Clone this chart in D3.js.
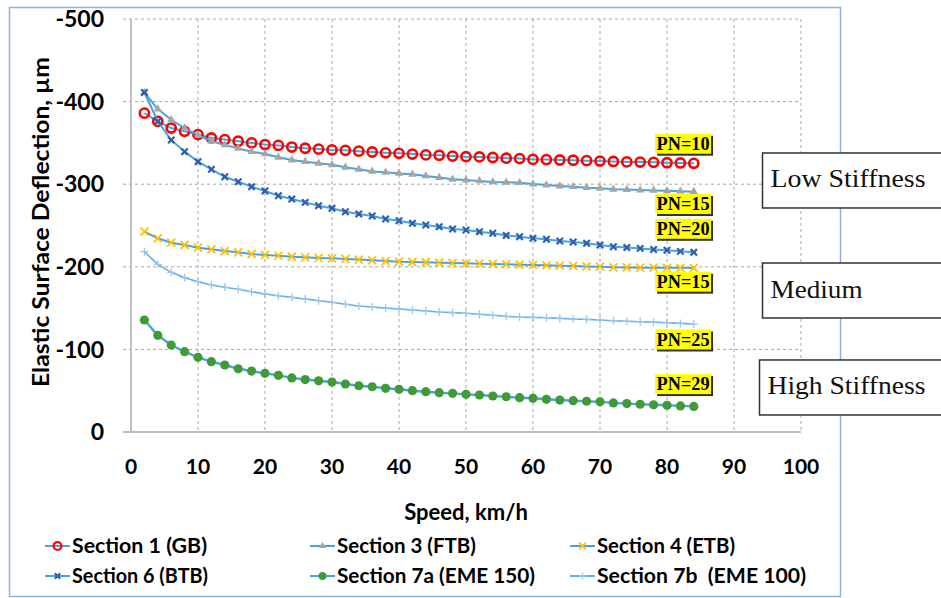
<!DOCTYPE html>
<html>
<head>
<meta charset="utf-8">
<script src="https://cdn.jsdelivr.net/npm/d3@7"></script>
<style>
html,body{margin:0;padding:0;background:#fff;}
svg{display:block;}
text{white-space:pre;}
</style>
</head>
<body>
<svg id="chart" width="941" height="598"></svg>
<script>
// ---------- DATA ----------
const speeds = [2,4,6,8,10,12,14,16,18,20,22,24,26,28,30,32,34,36,38,40,42,44,46,48,50,52,54,56,58,60,62,64,66,68,70,72,74,76,78,80,82,84];
const section1GB = [-386,-376,-368,-364,-360,-356,-354,-352,-350,-348,-347,-345,-343.5,-342.5,-341.5,-341,-340,-339,-338,-337.4,-336.5,-335.5,-335,-334,-333.3,-333,-332.3,-331.5,-331,-330,-329.8,-329.3,-329,-328.5,-328,-327.5,-327,-326.8,-326.5,-326,-325.7,-325.3];
const section3FTB = [-411,-391,-378,-368,-359,-352.3,-347.5,-343.4,-339.4,-336.6,-332.6,-329.3,-327.3,-325.3,-323.5,-320.4,-318,-315.5,-314.4,-313,-312,-310,-308,-306,-305,-304,-302.7,-302.3,-301.8,-300.2,-299,-297.8,-297,-295.8,-295,-293.8,-293.5,-293,-292.5,-292,-291.5,-291];
const section4ETB = [-242.5,-234.5,-229.2,-226.4,-223.1,-221.2,-219.1,-217.5,-215.5,-214.3,-213.4,-212.2,-211.5,-210.7,-210.3,-209.5,-208.8,-207.8,-207,-206.2,-205.8,-205.5,-205,-204.6,-204.2,-203.8,-203.4,-203,-202.6,-202.2,-201.8,-201.4,-201,-200.5,-200.1,-199.4,-199.2,-199,-198.9,-198.8,-198.7,-198.6];
const section6BTB = [-411,-376,-353.5,-339.4,-327.3,-318,-309,-303,-297,-291.8,-286,-282,-278,-274,-270.8,-266.7,-264,-261.5,-257.9,-255.8,-252.6,-250.6,-248.6,-245.8,-244.6,-242.5,-240.6,-238,-236.5,-234.5,-233.3,-231.2,-230,-228.4,-226.4,-224.3,-223.3,-222.3,-221,-220,-218.7,-217.5];
const section7aEME150 = [-135.6,-117,-105.3,-97.2,-90.4,-85.1,-81.1,-76.6,-73.8,-71,-68.6,-65.5,-63.5,-62,-60.5,-58.1,-56,-54.8,-52.9,-51.7,-50,-48.8,-47.6,-46.8,-45.6,-44.8,-43.6,-42.7,-41.5,-40.8,-39.6,-38.7,-37.9,-37.2,-36.5,-35.2,-34.4,-33.6,-33,-32.3,-31.6,-31];
const section7bEME100 = [-218.3,-203,-193.3,-186.8,-182,-178,-175.2,-172.8,-169.9,-167.1,-165,-163,-161,-159,-157,-154.6,-152.5,-151.3,-150,-148.9,-147.7,-146.5,-145.3,-144.5,-143.7,-142.5,-141.3,-140,-139.2,-138.8,-138.4,-137.6,-136.8,-136.4,-135.6,-134.7,-134,-133.5,-133,-132.3,-131.5,-130.7];

const seriesNames = ["Section 1 (GB)","Section 3 (FTB)","Section 4 (ETB)","Section 6 (BTB)","Section 7a (EME 150)","Section 7b  (EME 100)"];
const xTicks = [0,10,20,30,40,50,60,70,80,90,100];
const yTicks = [-500,-400,-300,-200,-100,0];
const yTickLabels = ["-500","-400","-300","-200","-100","0"];
const xTitle = "Speed, km/h";
const yTitle = "Elastic Surface Deflection, µm";
const pnLabels = ["PN=10","PN=15","PN=20","PN=15","PN=25","PN=29"];
const pnValues = [-349,-276,-246,-182,-112,-58];
const stiffnessLabels = ["Low Stiffness","Medium","High Stiffness"];
const stiffnessValues = [-304.5,-171.3,-53.9];

// ---------- LAYOUT ----------
const svg = d3.select("#chart");
const plot = {left:131, right:801, top:19, bottom:432};
const x = d3.scaleLinear().domain([0,100]).range([plot.left, plot.right]);
const y = d3.scaleLinear().domain([0,-500]).range([plot.bottom, plot.top]);

const lineColor = "#4aa3e0";
const sansBold = "Lato, 'Open Sans', sans-serif";
const serif = "'Liberation Serif', 'DejaVu Serif', serif";

// outer border
svg.append("rect").attr("x",9.5).attr("y",7.5).attr("width",831).attr("height",589)
  .attr("fill","none").attr("stroke","#8db3e2").attr("stroke-width",1.5);

// grid
const grid = svg.append("g");
grid.selectAll("line.h").data(yTicks.filter(d=>d!==0)).join("line")
  .attr("x1",plot.left-8).attr("x2",plot.right)
  .attr("y1",d=>y(d)).attr("y2",d=>y(d))
  .attr("stroke","#a6a6a6").attr("stroke-width",1).attr("stroke-dasharray","3,3");
grid.selectAll("line.v").data(xTicks.filter(d=>d!==0)).join("line")
  .attr("x1",d=>x(d)).attr("x2",d=>x(d))
  .attr("y1",plot.top).attr("y2",plot.bottom)
  .attr("stroke","#a6a6a6").attr("stroke-width",1).attr("stroke-dasharray","3,3");

// axes lines
svg.append("line").attr("x1",plot.left).attr("x2",plot.left).attr("y1",plot.top).attr("y2",plot.bottom+1)
  .attr("stroke","#bfbfbf").attr("stroke-width",2);
svg.append("line").attr("x1",plot.left-8).attr("x2",plot.right).attr("y1",plot.bottom).attr("y2",plot.bottom)
  .attr("stroke","#bfbfbf").attr("stroke-width",2);

// y tick labels
svg.append("g").selectAll("text").data(yTicks).join("text")
  .attr("x",104).attr("y",d=>y(d)).attr("dy","0.36em")
  .attr("text-anchor","end").attr("font-family",sansBold).attr("font-weight",700)
  .attr("font-size",23).attr("fill","#000")
  .text((d,i)=>yTickLabels[i]);
// x tick labels
svg.append("g").selectAll("text").data(xTicks).join("text")
  .attr("x",d=>x(d)).attr("y",474)
  .attr("text-anchor","middle").attr("font-family",sansBold).attr("font-weight",700)
  .attr("font-size",21).attr("fill","#000")
  .text(d=>d);
// titles
svg.append("text").attr("x",466).attr("y",520).attr("text-anchor","middle")
  .attr("font-family",sansBold).attr("font-weight",700).attr("font-size",22).text(xTitle);
svg.append("text").attr("transform","translate(49,222) rotate(-90)").attr("text-anchor","middle")
  .attr("font-family",sansBold).attr("font-weight",700).attr("font-size",22)
  .attr("textLength",330).attr("lengthAdjust","spacingAndGlyphs").text(yTitle);

// ---------- SERIES ----------
const series = [
  {name:seriesNames[0], values:section1GB, marker:"circleOpen", color:"#ff0000", lw:2},
  {name:seriesNames[1], values:section3FTB, marker:"triangle", color:"#a5a5a5", lw:2},
  {name:seriesNames[2], values:section4ETB, marker:"x", color:"#ffc000", lw:2},
  {name:seriesNames[3], values:section6BTB, marker:"xstar", color:"#2f5fae", lw:2},
  {name:seriesNames[4], values:section7aEME150, marker:"dot", color:"#3e9b35", lw:2.4},
  {name:seriesNames[5], values:section7bEME100, marker:"plus", color:"#9dc8ee", lw:1.6}
];

const line = d3.line().x(d=>x(d[0])).y(d=>y(d[1]));

function drawMarker(g, type, color, cx, cy, scale){
  const s = scale||1;
  if(type==="circleOpen"){
    g.append("circle").attr("cx",cx).attr("cy",cy).attr("r",4.6*s)
      .attr("fill","none").attr("stroke",color).attr("stroke-width",2.6*s);
  } else if(type==="dot"){
    g.append("circle").attr("cx",cx).attr("cy",cy).attr("r",4.6*s).attr("fill",color);
  } else if(type==="triangle"){
    g.append("path").attr("d",d3.symbol(d3.symbolTriangle, 30*s*s)())
      .attr("transform",`translate(${cx},${cy})`).attr("fill",color);
  } else if(type==="x" || type==="xstar"){
    const r = (type==="x"?4:3.2)*s;
    g.append("path").attr("d",`M${cx-r},${cy-r}L${cx+r},${cy+r}M${cx-r},${cy+r}L${cx+r},${cy-r}`)
      .attr("stroke",color).attr("stroke-width",type==="x"?1.8:2.2).attr("fill","none");
    if(type==="xstar"){
      g.append("circle").attr("cx",cx).attr("cy",cy).attr("r",1.6*s).attr("fill",color);
    }
  } else if(type==="plus"){
    const r = 4*s;
    g.append("path").attr("d",`M${cx-r},${cy}L${cx+r},${cy}M${cx},${cy-r}L${cx},${cy+r}`)
      .attr("stroke",color).attr("stroke-width",1.3).attr("fill","none");
  }
}

const sg = svg.append("g");
series.forEach(s=>{
  const pts = speeds.map((v,i)=>[v, s.values[i]]);
  const g = sg.append("g");
  g.append("path").datum(pts).attr("d",line).attr("fill","none")
    .attr("stroke", s.marker==="plus" ? "#62b0ea" : lineColor)
    .attr("stroke-width", s.lw).attr("stroke-linejoin","round");
  pts.forEach(p=>drawMarker(g, s.marker, s.color, x(p[0]), y(p[1]), 1));
});

// ---------- PN LABELS ----------
const pg = svg.append("g");
pnLabels.forEach((t,i)=>{
  const cx = x(82.4), cy = y(pnValues[i]);
  const w = 56, h = 20;
  pg.append("rect").attr("x",cx-w/2+2).attr("y",cy-h/2+2).attr("width",w).attr("height",h).attr("fill","#333");
  pg.append("rect").attr("x",cx-w/2).attr("y",cy-h/2).attr("width",w).attr("height",h).attr("fill","#ffff00");
  pg.append("text").attr("x",cx).attr("y",cy).attr("dy","0.34em").attr("text-anchor","middle")
    .attr("font-family",serif).attr("font-weight",700).attr("font-size",18)
    .attr("textLength",53).attr("lengthAdjust","spacingAndGlyphs").text(t);
});

// ---------- STIFFNESS BOXES ----------
const stg = svg.append("g");
const stiffW = [155, 92, 158];
stiffnessLabels.forEach((t,i)=>{
  const cy = y(stiffnessValues[i]);
  const bx = i===2 ? 759.5 : 762.5;
  stg.append("rect").attr("x",bx).attr("y",cy-27.5).attr("width",200).attr("height",55)
    .attr("fill","#fff").attr("stroke","#333").attr("stroke-width",1.5);
  stg.append("text").attr("x",bx+8).attr("y",cy+7).attr("font-family",serif)
    .attr("font-size",26).attr("fill","#111")
    .attr("textLength",stiffW[i]).attr("lengthAdjust","spacingAndGlyphs").text(t);
});

// ---------- LEGEND ----------
const legendCols = [45, 310, 570];
const legendRows = [546, 576];
const legendTextW = [135, 139, 138, 136, 198, 209];
const lg = svg.append("g");
series.forEach((s,i)=>{
  const lx = legendCols[i%3], ly = legendRows[Math.floor(i/3)];
  lg.append("line").attr("x1",lx).attr("x2",lx+25).attr("y1",ly).attr("y2",ly)
    .attr("stroke", s.marker==="plus" ? "#62b0ea" : lineColor).attr("stroke-width",2);
  drawMarker(lg, s.marker, s.color, lx+12.5, ly, 0.85);
  lg.append("text").attr("x",lx+27).attr("y",ly+7).attr("font-family",sansBold)
    .attr("font-weight",700).attr("font-size",20)
    .attr("textLength",legendTextW[i]).attr("lengthAdjust","spacingAndGlyphs").text(s.name);
});
</script>
</body>
</html>
